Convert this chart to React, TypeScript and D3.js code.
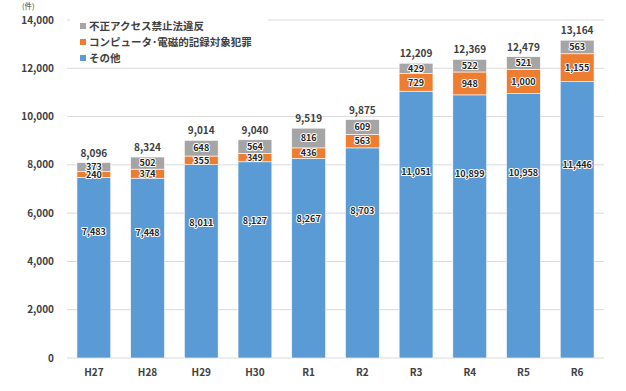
import React, { useEffect, useRef } from 'react';
import * as d3 from 'd3';

const years = ['H27', 'H28', 'H29', 'H30', 'R1', 'R2', 'R3', 'R4', 'R5', 'R6'];
const otherValues = [7483, 7448, 8011, 8127, 8267, 8703, 11051, 10899, 10958, 11446];
const computerValues = [240, 374, 355, 349, 436, 563, 729, 948, 1000, 1155];
const accessValues = [373, 502, 648, 564, 816, 609, 429, 522, 521, 563];
const yTicks = [0, 2000, 4000, 6000, 8000, 10000, 12000, 14000];
const seriesNames = ['不正アクセス禁止法違反', 'コンピュータ･電磁的記録対象犯罪', 'その他'];
const seriesColors = ['#a5a5a5', '#ed7d31', '#5b9bd5'];

const FONT = '"Noto Sans CJK JP", "Noto Sans", sans-serif';

const App = () => {
  const ref = useRef<SVGSVGElement | null>(null);

  useEffect(() => {
    const svg = d3.select(ref.current);
    svg.selectAll('*').remove();

    const x = d3.scaleBand().domain(years).range([67, 604]).paddingInner(0.37).paddingOuter(0.185);
    const y = d3.scaleLinear().domain([0, 14000]).range([358, 20]);

    // gridlines
    svg.append('g')
      .selectAll('line')
      .data(yTicks)
      .enter()
      .append('line')
      .attr('x1', 67)
      .attr('x2', 604)
      .attr('y1', (d) => y(d))
      .attr('y2', (d) => y(d))
      .attr('stroke', '#d9d9d9')
      .attr('stroke-width', 1);

    // y tick labels
    svg.append('g')
      .selectAll('text')
      .data(yTicks)
      .enter()
      .append('text')
      .text((d) => d3.format(',')(d))
      .attr('x', 54)
      .attr('y', (d) => y(d) + 3.5)
      .attr('text-anchor', 'end')
      .attr('font-family', FONT)
      .attr('font-size', 10)
      .attr('font-weight', 'bold')
      .attr('fill', '#404040');

    svg.append('text')
      .text('(件)')
      .attr('x', 22)
      .attr('y', 9)
      .attr('font-family', FONT)
      .attr('font-size', 7.5)
      .attr('fill', '#404040');

    const rows = years.map((yr, i) => ({
      yr,
      other: otherValues[i],
      computer: computerValues[i],
      access: accessValues[i],
    }));
    const stack = d3.stack<any>().keys(['other', 'computer', 'access'])(rows);
    const colorByKey: Record<string, string> = {
      other: seriesColors[2],
      computer: seriesColors[1],
      access: seriesColors[0],
    };

    // bars
    stack.forEach((layer) => {
      svg.append('g')
        .selectAll('rect')
        .data(layer)
        .enter()
        .append('rect')
        .attr('x', (d: any) => x(d.data.yr) as number)
        .attr('width', x.bandwidth())
        .attr('y', (d: any) => y(d[1]))
        .attr('height', (d: any) => y(d[0]) - y(d[1]))
        .attr('fill', colorByKey[layer.key])
        .attr('stroke', '#ffffff')
        .attr('stroke-width', 0.6);
    });

    // segment labels
    stack.forEach((layer) => {
      svg.append('g')
        .selectAll('text')
        .data(layer)
        .enter()
        .append('text')
        .text((d: any) => d3.format(',')(d[1] - d[0]))
        .attr('x', (d: any) => (x(d.data.yr) as number) + x.bandwidth() / 2)
        .attr('y', (d: any) =>
          layer.key === 'other' ? y(d[1] * 0.7) + 3.5 : (y(d[0]) + y(d[1])) / 2 + 3.2,
        )
        .attr('text-anchor', 'middle')
        .attr('font-family', FONT)
        .attr('font-size', 9)
        .attr('font-weight', 'bold')
        .attr('fill', '#262626')
        .attr('stroke', '#ffffff')
        .attr('stroke-width', 2)
        .attr('stroke-linejoin', 'round')
        .attr('paint-order', 'stroke');
    });

    // totals
    svg.append('g')
      .selectAll('text')
      .data(rows)
      .enter()
      .append('text')
      .text((d) => d3.format(',')(d.other + d.computer + d.access))
      .attr('x', (d) => (x(d.yr) as number) + x.bandwidth() / 2)
      .attr('y', (d) => y(d.other + d.computer + d.access) - 6)
      .attr('text-anchor', 'middle')
      .attr('font-family', FONT)
      .attr('font-size', 10)
      .attr('font-weight', 'bold')
      .attr('fill', '#404040');

    // x labels
    svg.append('g')
      .selectAll('text')
      .data(years)
      .enter()
      .append('text')
      .text((d) => d)
      .attr('x', (d) => (x(d) as number) + x.bandwidth() / 2)
      .attr('y', 376)
      .attr('text-anchor', 'middle')
      .attr('font-family', FONT)
      .attr('font-size', 10)
      .attr('font-weight', 'bold')
      .attr('fill', '#404040');

    // legend
    const legend = svg.append('g');
    legend.append('rect')
      .attr('x', 70)
      .attr('y', 13)
      .attr('width', 198)
      .attr('height', 54)
      .attr('fill', '#ffffff');
    seriesNames.forEach((name, i) => {
      const cy = 26 + i * 16;
      legend.append('rect')
        .attr('x', 80)
        .attr('y', cy - 3)
        .attr('width', 6)
        .attr('height', 6)
        .attr('fill', seriesColors[i]);
      legend.append('text')
        .text(name)
        .attr('x', 89)
        .attr('y', cy + 4)
        .attr('font-family', FONT)
        .attr('font-size', 10.5)
        .attr('font-weight', 'bold')
        .attr('fill', '#404040');
    });
  }, []);

  return (
    <svg
      ref={ref}
      width={626}
      height={391}
      style={{ position: 'absolute', left: 0, top: 0, background: '#ffffff' }}
    />
  );
};

export default App;
